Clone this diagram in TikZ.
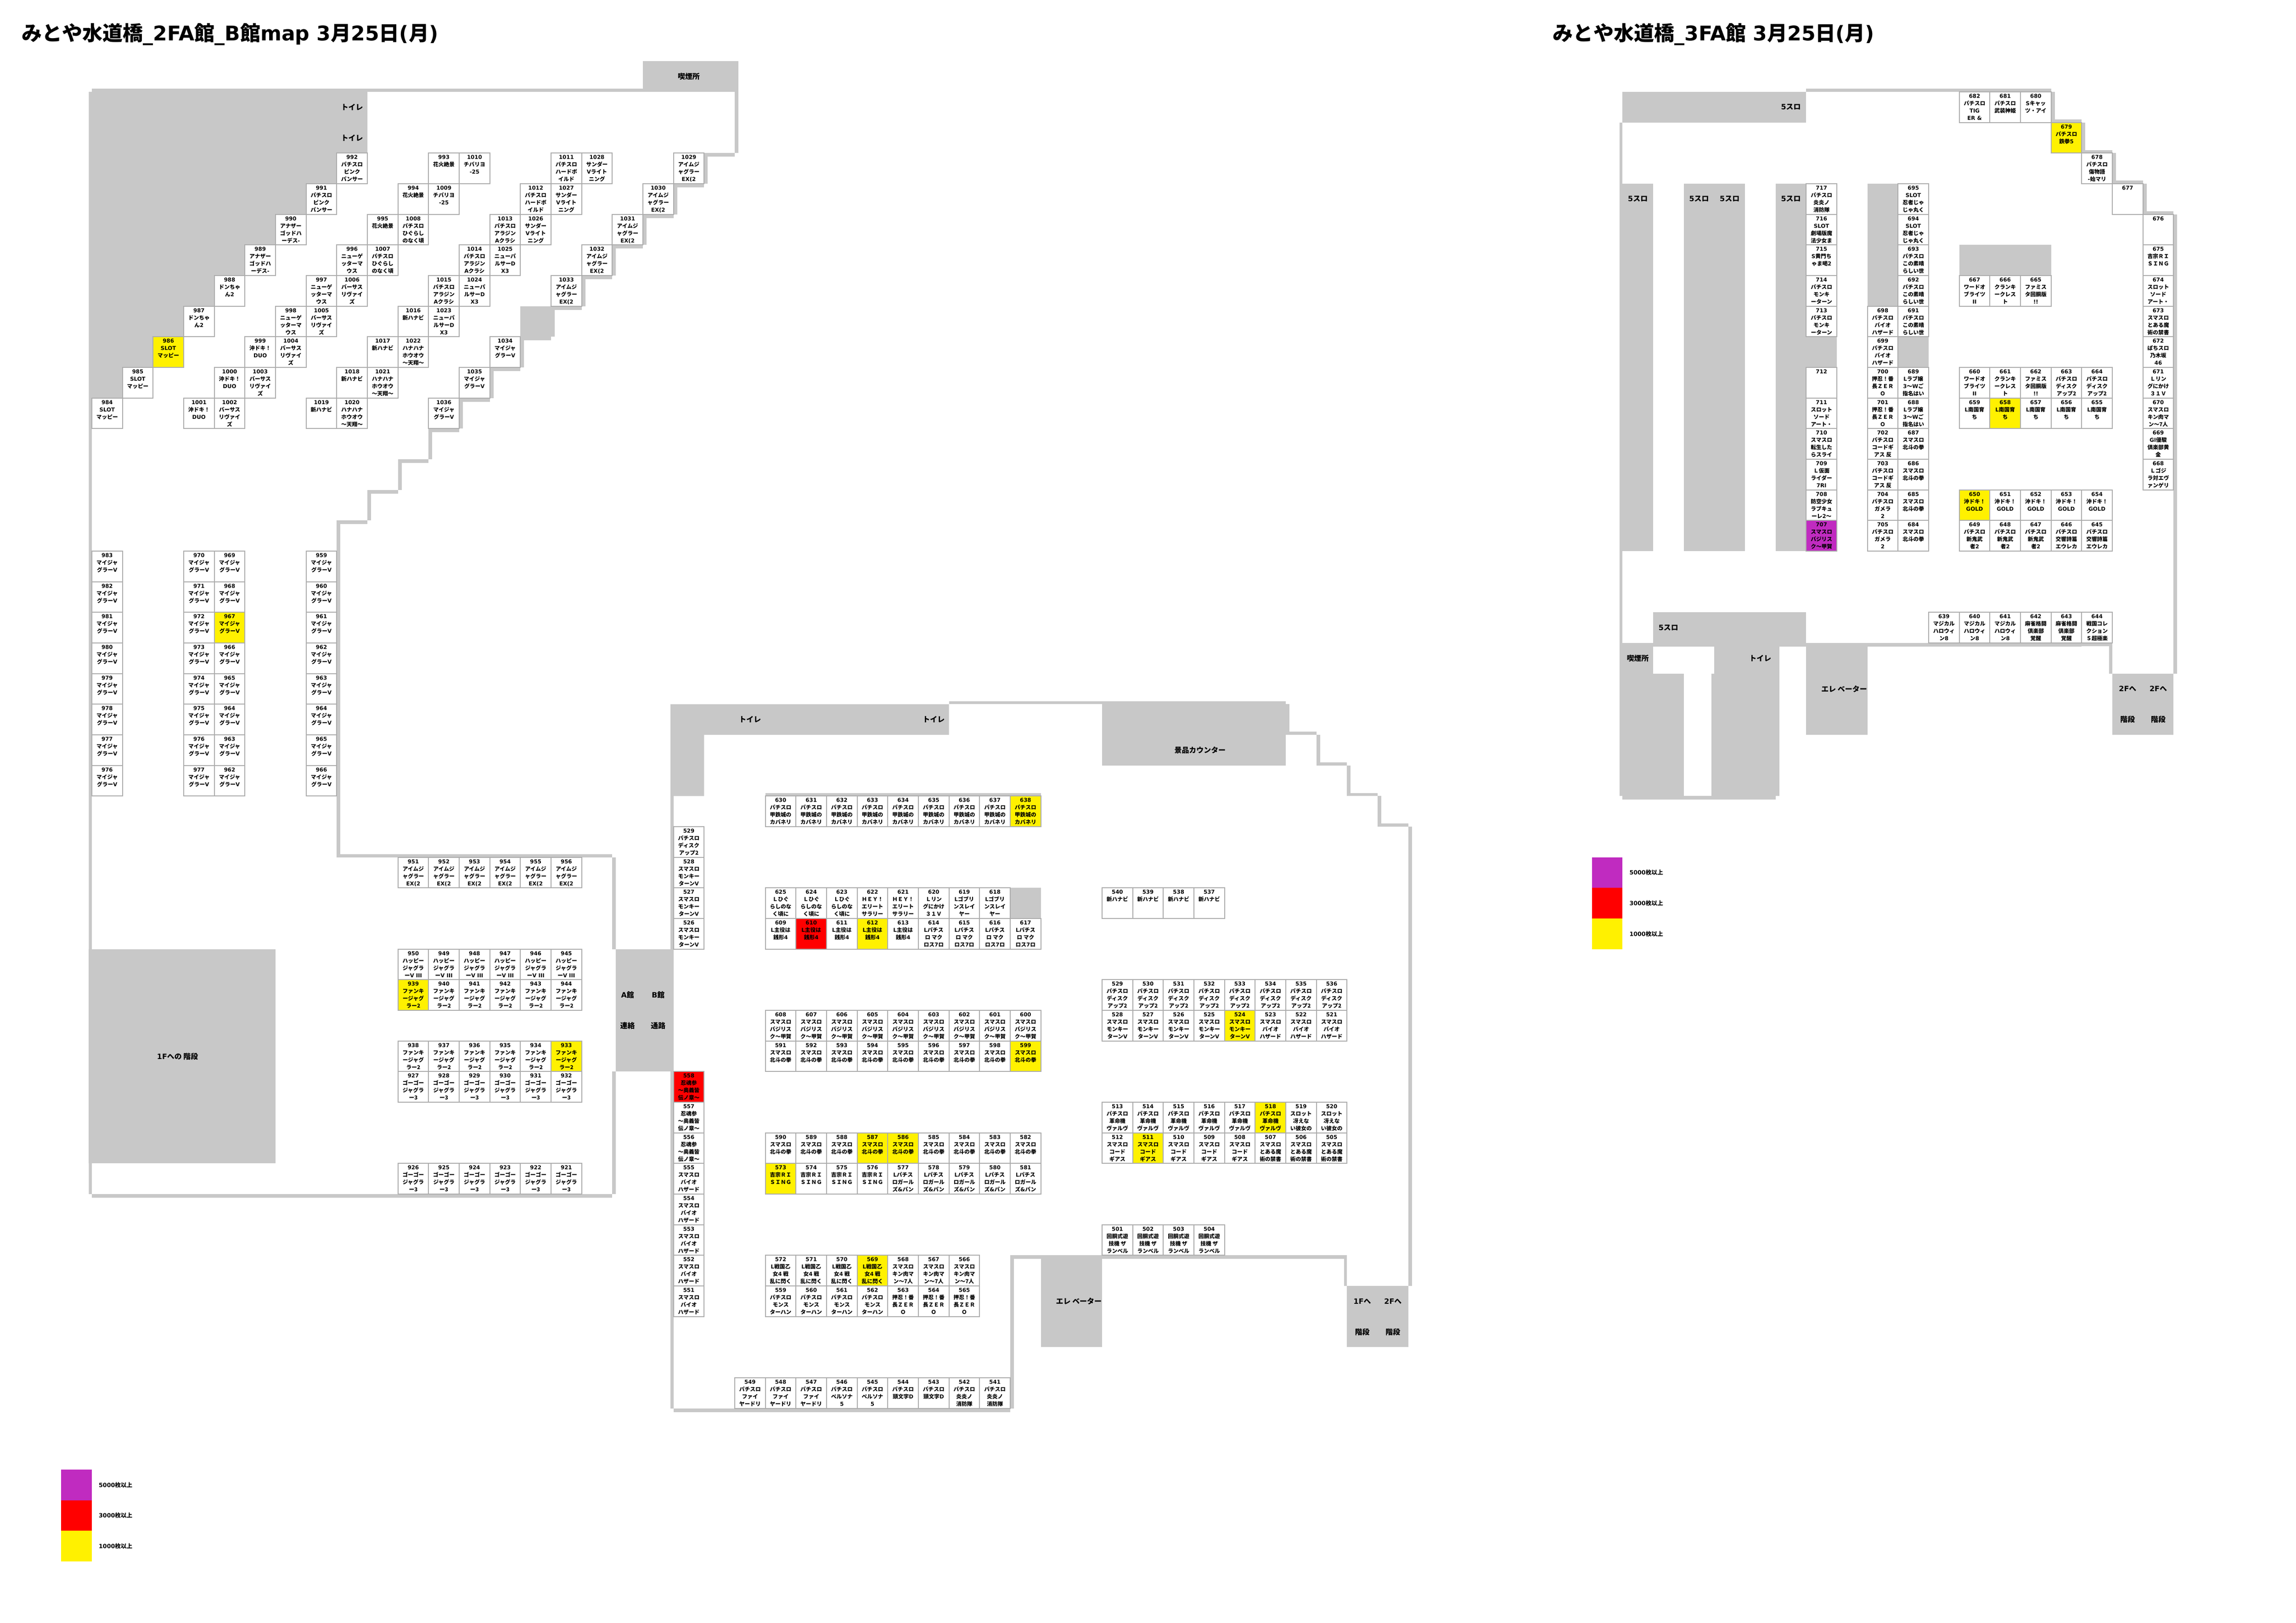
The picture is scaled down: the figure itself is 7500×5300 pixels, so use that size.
\documentclass[tikz,border=0pt]{standalone}
\usepackage{fontspec}
\setmainfont{Noto Sans CJK JP}
\newfontfamily\djb{DejaVu Sans}
\definecolor{wallgray}{HTML}{C8C8C8}
\definecolor{cellline}{HTML}{ABABAB}
\definecolor{yel}{HTML}{FFF100}
\definecolor{rd}{HTML}{FF0000}
\definecolor{pur}{HTML}{C02BC0}
\newcommand\D[1]{{\djb #1}}
\newlength\cw \setlength\cw{28.45pt}
\newcommand\celltext[2]{\vbox to\cw{\hsize=\cw\parindent=0pt\centering\baselineskip=6.83pt\lineskiplimit=-10pt\lineskip=0pt\rule{0pt}{5.8pt}\D{#1}\\#2\par\vss}}
\tikzset{
  cellbox/.style={draw=cellline,line width=0.8pt,inner sep=0pt,outer sep=0pt,font=\fontsize{5}{6.83}\selectfont\bfseries},
  wall/.style={fill=wallgray,draw=none},
  lbl/.style={inner sep=0pt,font=\fontsize{6.8}{8}\selectfont\bfseries},
  leg/.style={inner sep=0pt,anchor=west,font=\fontsize{5.4}{7}\selectfont\bfseries},
  ttl/.style={inner sep=0pt,anchor=west,font=\fontsize{18.8}{22}\selectfont\bfseries}
}
\newcommand\C[5][white]{\node[cellbox,fill=#1] (c#2-#3) at ({#2*100+50},{#3*100+50}) {\celltext{#4}{#5}};}
\newcommand\R[4]{\fill[wall] (#1,#2) rectangle (#3,#4);}
% repeated machine names
\def\mjv{マイジャ\\グラー\D{V}}
\def\imj{アイムジ\\ャグラー\\\D{EX(2}}
\def\hpy{ハッピー\\ジャグラ\\ー\D{V III}}
\def\fnk{ファンキ\\ージャグ\\ラー2}
\def\gog{ゴーゴー\\ジャグラ\\ー3}
\def\mky{スマスロ\\モンキー\\ターン\D{V}}
\def\dsk{パチスロ\\ディスク\\アップ2}
\def\bio{スマスロ\\バイオ\\ハザード}
\def\shi{忍魂参\\〜奥義皆\\伝ノ章〜}
\def\kab{パチスロ\\甲鉄城の\\カバネリ}
\def\zen{\D{L}主役は\\銭形\D{4}}
\def\mac{\D{L}パチス\\ロ マク\\ロス\D{7}ロ}
\def\bas{スマスロ\\バジリス\\ク〜甲賀}
\def\hok{スマスロ\\北斗の拳}
\def\yos{吉宗ＲＩ\\ＳＩＮＧ}
\def\gar{\D{L}パチス\\ロガール\\ズ\D{\&}パン}
\def\sen{\D{L}戦国乙\\女\D{4} 戦\\乱に閃く}
\def\kin{スマスロ\\キン肉マ\\ン〜7人}
\def\mon{パチスロ\\モンス\\ターハン}
\def\zer{押忍！番\\長ＺＥＲ\\Ｏ}
\def\rev{パチスロ\\革命機\\ヴァルヴ}
\def\sae{スロット\\冴えな\\い彼女の}
\def\cod{スマスロ\\コード\\ギアス}
\def\ind{スマスロ\\とある魔\\術の禁書}
\def\hnb{新ハナビ}
\begin{document}
\begin{tikzpicture}[x=0.01cm,y=-0.01cm]
\path[use as bounding box,fill=white] (0,0) rectangle (7500,5300);
% ---------- 2F A wing walls
\fill[wall] (290,300)--(1200,300)--(1200,500)--(1100,500)--(1100,600)--(1000,600)--(1000,700)--(900,700)--(900,800)--(800,800)--(800,900)--(700,900)--(700,1000)--(600,1000)--(600,1100)--(500,1100)--(500,1200)--(400,1200)--(400,1300)--(300,1300)--(300,3900)--(290,3900)--cycle;
\R{300}{290}{2100}{300}\R{2100}{200}{2412}{300}\R{2400}{300}{2412}{500}
\R{2300}{500}{2400}{512}\R{2300}{500}{2312}{600}\R{2200}{600}{2300}{612}
\R{2200}{600}{2212}{700}\R{2100}{700}{2200}{712}\R{2100}{700}{2112}{800}
\R{2000}{800}{2100}{812}\R{2000}{800}{2012}{900}\R{1900}{900}{2000}{912}
\R{1900}{900}{1912}{1000}\R{1700}{1000}{1900}{1012}\R{1700}{1000}{1812}{1100}
\R{1700}{1100}{1800}{1112}\R{1700}{1100}{1712}{1200}\R{1600}{1200}{1700}{1212}
\R{1600}{1200}{1612}{1300}\R{1500}{1300}{1600}{1312}\R{1500}{1300}{1512}{1400}
\R{1400}{1400}{1500}{1412}\R{1400}{1400}{1412}{1500}\R{1300}{1500}{1400}{1512}
\R{1300}{1500}{1312}{1600}\R{1200}{1600}{1300}{1612}\R{1200}{1600}{1212}{1700}
\R{1100}{1700}{1200}{1712}\R{1100}{1700}{1112}{2800}\R{1100}{2790}{2000}{2800}
\R{2000}{2800}{2012}{3100}\R{2012}{3100}{2200}{3500}\R{2000}{3500}{2012}{3900}
\R{300}{3900}{2000}{3912}\R{290}{3100}{900}{3800}
% ---------- 2F B wing walls
\fill[wall] (2190,2300)--(3100,2300)--(3100,2400)--(2300,2400)--(2300,2600)--(2190,2600)--cycle;
\R{3100}{2290}{4200}{2300}\R{3600}{2300}{4200}{2500}
\R{4200}{2300}{4212}{2390}\R{4200}{2390}{4300}{2400}\R{4300}{2400}{4312}{2490}
\R{4300}{2490}{4400}{2500}\R{4400}{2500}{4412}{2590}\R{4400}{2590}{4500}{2600}
\R{4500}{2600}{4512}{2690}\R{4500}{2690}{4600}{2700}\R{4600}{2700}{4612}{4200}
\R{2190}{2600}{2200}{3100}\R{2190}{3500}{2200}{4600}\R{2500}{2590}{3400}{2600}
\R{3300}{2900}{3400}{3000}\R{2200}{4600}{3300}{4612}\R{3300}{4100}{3312}{4600}
\R{3300}{4100}{4400}{4112}\R{3400}{4100}{3600}{4400}\R{4390}{4100}{4400}{4200}
\R{4400}{4200}{4600}{4400}
% ---------- 3F walls
\R{5300}{300}{5900}{400}\R{5900}{290}{6700}{300}\R{6700}{300}{6712}{390}
\R{6700}{390}{6800}{400}\R{6800}{400}{6812}{490}\R{6800}{490}{6900}{500}
\R{6900}{500}{6912}{590}\R{6900}{590}{7000}{600}\R{7000}{600}{7012}{690}
\R{7000}{690}{7100}{700}\R{7100}{700}{7112}{2200}
\R{5290}{400}{5300}{2100}
\R{5300}{600}{5400}{1800}\R{5500}{600}{5700}{1800}\R{5800}{600}{5900}{1800}
\R{5900}{1100}{6000}{1200}\R{6100}{600}{6200}{1000}\R{6200}{1100}{6300}{1200}
\R{6400}{800}{6700}{900}
\R{5400}{2000}{5900}{2100}\R{5290}{2100}{5400}{2200}\R{5400}{2100}{6800}{2112}
\R{6800}{2100}{6900}{2110}\R{6890}{2110}{6900}{2200}
\R{5290}{2200}{5500}{2600}\R{5590}{2200}{5812}{2600}\R{5600}{2112}{5812}{2200}
\R{5300}{2600}{5800}{2612}\R{5900}{2100}{6100}{2400}\R{6900}{2200}{7100}{2400}
% ---------- legends
\fill[pur] (200,4800) rectangle (300,4900);
\fill[rd] (200,4900) rectangle (300,5000);
\fill[yel] (200,5000) rectangle (300,5100);
\fill[pur] (5200,2800) rectangle (5300,2900);
\fill[rd] (5200,2900) rectangle (5300,3000);
\fill[yel] (5200,3000) rectangle (5300,3100);
\node[leg] (lg1) at (322,4850) {\D{5000}枚以上};
\node[leg] (lg2) at (322,4950) {\D{3000}枚以上};
\node[leg] (lg3) at (322,5050) {\D{1000}枚以上};
\node[leg] (lg4) at (5322,2850) {\D{5000}枚以上};
\node[leg] (lg5) at (5322,2950) {\D{3000}枚以上};
\node[leg] (lg6) at (5322,3050) {\D{1000}枚以上};
% ---------- titles
\node[ttl] (t1) at (70,112) {みとや水道橋\D{\_2FA}館\D{\_B}館\D{map 3}月\D{25}日\D{(}月\D{)}};
\node[ttl] (t2) at (5072,112) {みとや水道橋\D{\_3FA}館\D{ 3}月\D{25}日\D{(}月\D{)}};
% ---------- area labels
\node[lbl] (a1) at (1150,350) {トイレ};
\node[lbl] (a2) at (1150,450) {トイレ};
\node[lbl] (a3) at (2250,250) {喫煙所};
\node[lbl] (a4) at (580,3450) {\D{1F}への 階段};
\node[lbl] (a5) at (2050,3250) {\D{A}館};
\node[lbl] (a6) at (2150,3250) {\D{B}館};
\node[lbl] (a7) at (2050,3350) {連絡};
\node[lbl] (a8) at (2150,3350) {通路};
\node[lbl] (a9) at (2450,2350) {トイレ};
\node[lbl] (a10) at (3050,2350) {トイレ};
\node[lbl] (a11) at (3920,2450) {景品カウンター};
\node[lbl] (a12) at (3524,4250) {エレ ベーター};
\node[lbl] (a13) at (4450,4250) {\D{1F}へ};
\node[lbl] (a14) at (4550,4250) {\D{2F}へ};
\node[lbl] (a15) at (4450,4350) {階段};
\node[lbl] (a16) at (4550,4350) {階段};
\node[lbl] (b1) at (5850,350) {\D{5}スロ};
\node[lbl] (b2) at (5350,650) {\D{5}スロ};
\node[lbl] (b3) at (5550,650) {\D{5}スロ};
\node[lbl] (b4) at (5650,650) {\D{5}スロ};
\node[lbl] (b5) at (5850,650) {\D{5}スロ};
\node[lbl] (b6) at (5450,2050) {\D{5}スロ};
\node[lbl] (b7) at (5350,2150) {喫煙所};
\node[lbl] (b8) at (5750,2150) {トイレ};
\node[lbl] (b9) at (6024,2250) {エレ ベーター};
\node[lbl] (b10) at (6950,2250) {\D{2F}へ};
\node[lbl] (b11) at (7050,2250) {\D{2F}へ};
\node[lbl] (b12) at (6950,2350) {階段};
\node[lbl] (b13) at (7050,2350) {階段};
% ---------- 2F A wing cells
\foreach \c/\r/\n in {11/5/992,10/6/991}{\C{\c}{\r}{\n}{パチスロ\\ピンク\\パンサー}}
\foreach \c/\r/\n in {9/7/990,8/8/989}{\C{\c}{\r}{\n}{アナザー\\ゴッドハ\\ーデス\D{-}}}
\foreach \c/\r/\n in {7/9/988,6/10/987}{\C{\c}{\r}{\n}{ドンちゃ\\ん\D{2}}}
\C[yel]{5}{11}{986}{\D{SLOT}\\マッピー}
\foreach \c/\r/\n in {4/12/985,3/13/984}{\C{\c}{\r}{\n}{\D{SLOT}\\マッピー}}
\foreach \c/\r/\n in {14/5/993,13/6/994,12/7/995}{\C{\c}{\r}{\n}{花火絶景}}
\foreach \c/\r/\n in {15/5/1010,14/6/1009}{\C{\c}{\r}{\n}{チバリヨ\\\D{-25}}}
\foreach \c/\r/\n in {13/7/1008,12/8/1007}{\C{\c}{\r}{\n}{パチスロ\\ひぐらし\\のなく頃}}
\foreach \c/\r/\n in {11/8/996,10/9/997,9/10/998}{\C{\c}{\r}{\n}{ニューゲ\\ッターマ\\ウス}}
\foreach \c/\r/\n in {11/9/1006,10/10/1005,9/11/1004,8/12/1003,7/13/1002}{\C{\c}{\r}{\n}{バーサス\\リヴァイ\\ズ}}
\foreach \c/\r/\n in {8/11/999,7/12/1000,6/13/1001}{\C{\c}{\r}{\n}{沖ドキ！\\\D{DUO}}}
\foreach \c/\r/\n in {13/10/1016,12/11/1017,11/12/1018,10/13/1019}{\C{\c}{\r}{\n}{\hnb}}
\foreach \c/\r/\n in {13/11/1022,12/12/1021,11/13/1020}{\C{\c}{\r}{\n}{ハナハナ\\ホウオウ\\〜天翔〜}}
\foreach \c/\r/\n in {18/5/1011,17/6/1012}{\C{\c}{\r}{\n}{パチスロ\\ハードボ\\イルド}}
\foreach \c/\r/\n in {19/5/1028,18/6/1027,17/7/1026}{\C{\c}{\r}{\n}{サンダー\\\D{V}ライト\\ニング}}
\foreach \c/\r/\n in {16/7/1013,15/8/1014,14/9/1015}{\C{\c}{\r}{\n}{パチスロ\\アラジン\\\D{A}クラシ}}
\foreach \c/\r/\n in {16/8/1025,15/9/1024,14/10/1023}{\C{\c}{\r}{\n}{ニューパ\\ルサー\D{D}\\\D{X3}}}
\foreach \c/\r/\n in {22/5/1029,21/6/1030,20/7/1031,19/8/1032,18/9/1033}{\C{\c}{\r}{\n}{\imj}}
\foreach \c/\r/\n in {16/11/1034,15/12/1035,14/13/1036}{\C{\c}{\r}{\n}{\mjv}}
\foreach \r/\n in {18/983,19/982,20/981,21/980,22/979,23/978,24/977,25/976}{\C{3}{\r}{\n}{\mjv}}
\foreach \r/\n in {18/970,19/971,20/972,21/973,22/974,23/975,24/976,25/977}{\C{6}{\r}{\n}{\mjv}}
\foreach \r/\n in {18/969,19/968,21/966,22/965,23/964,24/963,25/962}{\C{7}{\r}{\n}{\mjv}}
\C[yel]{7}{20}{967}{\mjv}
\foreach \r/\n in {18/959,19/960,20/961,21/962,22/963,23/964,24/965,25/966}{\C{10}{\r}{\n}{\mjv}}
\foreach \c/\n in {13/951,14/952,15/953,16/954,17/955,18/956}{\C{\c}{28}{\n}{\imj}}
\foreach \c/\n in {13/950,14/949,15/948,16/947,17/946,18/945}{\C{\c}{31}{\n}{\hpy}}
\C[yel]{13}{32}{939}{\fnk}
\foreach \c/\n in {14/940,15/941,16/942,17/943,18/944}{\C{\c}{32}{\n}{\fnk}}
\foreach \c/\n in {13/938,14/937,15/936,16/935,17/934}{\C{\c}{34}{\n}{\fnk}}
\C[yel]{18}{34}{933}{\fnk}
\foreach \c/\n in {13/927,14/928,15/929,16/930,17/931,18/932}{\C{\c}{35}{\n}{\gog}}
\foreach \c/\n in {13/926,14/925,15/924,16/923,17/922,18/921}{\C{\c}{38}{\n}{\gog}}
% ---------- 2F B wing cells
\C{22}{27}{529}{\dsk}
\foreach \r/\n in {28/528,29/527,30/526}{\C{22}{\r}{\n}{\mky}}
\C[rd]{22}{35}{558}{\shi}
\foreach \r/\n in {36/557,37/556}{\C{22}{\r}{\n}{\shi}}
\foreach \r/\n in {38/555,39/554,40/553,41/552,42/551}{\C{22}{\r}{\n}{\bio}}
\foreach \c/\n in {25/630,26/631,27/632,28/633,29/634,30/635,31/636,32/637}{\C{\c}{26}{\n}{\kab}}
\C[yel]{33}{26}{638}{\kab}
\foreach \c/\n in {25/625,26/624,27/623}{\C{\c}{29}{\n}{Ｌひぐ\\らしのな\\く頃に}}
\foreach \c/\n in {28/622,29/621}{\C{\c}{29}{\n}{ＨＥＹ！\\エリート\\サラリー}}
\C{30}{29}{620}{Ｌリン\\グにかけ\\３１Ｖ}
\foreach \c/\n in {31/619,32/618}{\C{\c}{29}{\n}{\D{L}ゴブリ\\ンスレイ\\ヤー}}
\C{25}{30}{609}{\zen}
\C[rd]{26}{30}{610}{\zen}
\C{27}{30}{611}{\zen}
\C[yel]{28}{30}{612}{\zen}
\C{29}{30}{613}{\zen}
\foreach \c/\n in {30/614,31/615,32/616,33/617}{\C{\c}{30}{\n}{\mac}}
\foreach \c/\n in {25/608,26/607,27/606,28/605,29/604,30/603,31/602,32/601,33/600}{\C{\c}{33}{\n}{\bas}}
\foreach \c/\n in {25/591,26/592,27/593,28/594,29/595,30/596,31/597,32/598}{\C{\c}{34}{\n}{\hok}}
\C[yel]{33}{34}{599}{\hok}
\foreach \c/\n in {25/590,26/589,27/588,30/585,31/584,32/583,33/582}{\C{\c}{37}{\n}{\hok}}
\C[yel]{28}{37}{587}{\hok}
\C[yel]{29}{37}{586}{\hok}
\C[yel]{25}{38}{573}{\yos}
\foreach \c/\n in {26/574,27/575,28/576}{\C{\c}{38}{\n}{\yos}}
\foreach \c/\n in {29/577,30/578,31/579,32/580,33/581}{\C{\c}{38}{\n}{\gar}}
\foreach \c/\n in {25/572,26/571,27/570}{\C{\c}{41}{\n}{\sen}}
\C[yel]{28}{41}{569}{\sen}
\foreach \c/\n in {29/568,30/567,31/566}{\C{\c}{41}{\n}{\kin}}
\foreach \c/\n in {25/559,26/560,27/561,28/562}{\C{\c}{42}{\n}{\mon}}
\foreach \c/\n in {29/563,30/564,31/565}{\C{\c}{42}{\n}{\zer}}
\foreach \c/\n in {24/549,25/548,26/547}{\C{\c}{45}{\n}{パチスロ\\ファイ\\ヤードリ}}
\foreach \c/\n in {27/546,28/545}{\C{\c}{45}{\n}{パチスロ\\ペルソナ\\\D{5}}}
\foreach \c/\n in {29/544,30/543}{\C{\c}{45}{\n}{パチスロ\\頭文字\D{D}}}
\foreach \c/\n in {31/542,32/541}{\C{\c}{45}{\n}{パチスロ\\炎炎ノ\\消防隊}}
\foreach \c/\n in {36/540,37/539,38/538,39/537}{\C{\c}{29}{\n}{\hnb}}
\foreach \c/\n in {36/529,37/530,38/531,39/532,40/533,41/534,42/535,43/536}{\C{\c}{32}{\n}{\dsk}}
\foreach \c/\n in {36/528,37/527,38/526,39/525}{\C{\c}{33}{\n}{\mky}}
\C[yel]{40}{33}{524}{\mky}
\foreach \c/\n in {41/523,42/522,43/521}{\C{\c}{33}{\n}{\bio}}
\foreach \c/\n in {36/513,37/514,38/515,39/516,40/517}{\C{\c}{36}{\n}{\rev}}
\C[yel]{41}{36}{518}{\rev}
\foreach \c/\n in {42/519,43/520}{\C{\c}{36}{\n}{\sae}}
\C{36}{37}{512}{\cod}
\C[yel]{37}{37}{511}{\cod}
\foreach \c/\n in {38/510,39/509,40/508}{\C{\c}{37}{\n}{\cod}}
\foreach \c/\n in {41/507,42/506,43/505}{\C{\c}{37}{\n}{\ind}}
\foreach \c/\n in {36/501,37/502,38/503,39/504}{\C{\c}{40}{\n}{回胴式遊\\技機 ザ\\ランベル}}
% ---------- 3F cells
\C{64}{3}{682}{パチスロ\\\D{TIG}\\\D{ER \&}}
\C{65}{3}{681}{パチスロ\\武装神姫}
\C{66}{3}{680}{\D{S}キャッ\\ツ・アイ}
\C[yel]{67}{4}{679}{パチスロ\\鉄拳\D{5}}
\C{68}{5}{678}{パチスロ\\傷物語\\\D{-}始マリ}
\C{69}{6}{677}{}
\C{70}{7}{676}{}
\C{70}{8}{675}{\yos}
\C{70}{9}{674}{スロット\\ソード\\アート・}
\C{70}{10}{673}{\ind}
\C{70}{11}{672}{ぱちスロ\\乃木坂\\\D{46}}
\C{70}{12}{671}{Ｌリン\\グにかけ\\３１Ｖ}
\C{70}{13}{670}{\kin}
\C{70}{14}{669}{\D{GI}優駿\\倶楽部黄\\金}
\C{70}{15}{668}{Ｌゴジ\\ラ対エヴ\\ァンゲリ}
\C{64}{9}{667}{ワードオ\\ブライツ\\\D{II}}
\C{65}{9}{666}{クランキ\\ークレス\\ト}
\C{66}{9}{665}{ファミス\\タ回胴版\\\D{!!}}
\C{64}{12}{660}{ワードオ\\ブライツ\\\D{II}}
\C{65}{12}{661}{クランキ\\ークレス\\ト}
\C{66}{12}{662}{ファミス\\タ回胴版\\\D{!!}}
\foreach \c/\n in {67/663,68/664}{\C{\c}{12}{\n}{\dsk}}
\foreach \c/\n in {64/659,66/657,67/656,68/655}{\C{\c}{13}{\n}{\D{L}南国育\\ち}}
\C[yel]{65}{13}{658}{\D{L}南国育\\ち}
\C[yel]{64}{16}{650}{沖ドキ！\\\D{GOLD}}
\foreach \c/\n in {65/651,66/652,67/653,68/654}{\C{\c}{16}{\n}{沖ドキ！\\\D{GOLD}}}
\foreach \c/\n in {64/649,65/648,66/647}{\C{\c}{17}{\n}{パチスロ\\新鬼武\\者\D{2}}}
\foreach \c/\n in {67/646,68/645}{\C{\c}{17}{\n}{パチスロ\\交響詩篇\\エウレカ}}
\foreach \c/\n in {63/639,64/640,65/641}{\C{\c}{20}{\n}{マジカル\\ハロウィ\\ン\D{8}}}
\foreach \c/\n in {66/642,67/643}{\C{\c}{20}{\n}{麻雀格闘\\倶楽部\\覚醒}}
\C{68}{20}{644}{戦国コレ\\クション\\５超極楽}
\C{59}{6}{717}{パチスロ\\炎炎ノ\\消防隊}
\C{59}{7}{716}{\D{SLOT}\\劇場版魔\\法少女ま}
\C{59}{8}{715}{\D{S}黄門ち\\ゃま喝\D{2}}
\foreach \r/\n in {9/714,10/713}{\C{59}{\r}{\n}{パチスロ\\モンキ\\ーターン}}
\C{59}{12}{712}{}
\C{59}{13}{711}{スロット\\ソード\\アート・}
\C{59}{14}{710}{スマスロ\\転生した\\らスライ}
\C{59}{15}{709}{Ｌ仮面\\ライダー\\\D{7RI}}
\C{59}{16}{708}{防空少女\\ラブキュ\\ーレ\D{2}〜}
\C[pur]{59}{17}{707}{\bas}
\foreach \r/\n in {10/698,11/699}{\C{61}{\r}{\n}{パチスロ\\バイオ\\ハザード}}
\foreach \r/\n in {12/700,13/701}{\C{61}{\r}{\n}{\zer}}
\foreach \r/\n in {14/702,15/703}{\C{61}{\r}{\n}{パチスロ\\コードギ\\アス 反}}
\foreach \r/\n in {16/704,17/705}{\C{61}{\r}{\n}{パチスロ\\ガメラ\\\D{2}}}
\foreach \r/\n in {6/695,7/694}{\C{62}{\r}{\n}{\D{SLOT}\\忍者じゃ\\じゃ丸く}}
\foreach \r/\n in {8/693,9/692,10/691}{\C{62}{\r}{\n}{パチスロ\\この素晴\\らしい世}}
\foreach \r/\n in {12/689,13/688}{\C{62}{\r}{\n}{\D{L}ラブ嬢\\\D{3}〜\D{W}ご\\指名はい}}
\foreach \r/\n in {14/687,15/686,16/685,17/684}{\C{62}{\r}{\n}{\hok}}
\end{tikzpicture}
\end{document}
